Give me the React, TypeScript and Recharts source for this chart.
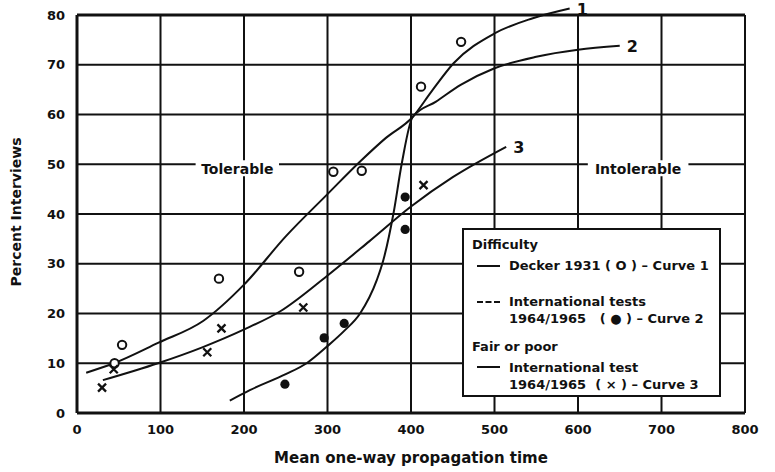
import React from 'react';
import { ComposedChart, Line, Scatter, XAxis, YAxis, CartesianGrid, Legend, ReferenceDot, ReferenceLine } from 'recharts';

// axis ticks
const xTicks = [0, 100, 200, 300, 400, 500, 600, 700, 800];
const yTicks = [0, 10, 20, 30, 40, 50, 60, 70, 80];

// fitted curves
const curve1 = [
  { x: 11, y: 8.1 }, { x: 44, y: 10 }, { x: 97, y: 14.1 }, { x: 151, y: 18.5 }, { x: 200, y: 25.8 },
  { x: 250, y: 35.5 }, { x: 300, y: 44 }, { x: 340, y: 50.7 }, { x: 370, y: 55.3 },
  { x: 402, y: 59.5 }, { x: 424, y: 64.5 }, { x: 451, y: 70.3 }, { x: 500, y: 76.3 }, { x: 545, y: 79.3 },
  { x: 590, y: 81.3 },
];
const curve2 = [
  { x: 183, y: 2.5 }, { x: 207, y: 4.6 }, { x: 250, y: 7.8 }, { x: 275, y: 10 }, { x: 299, y: 13.3 },
  { x: 320, y: 16.5 }, { x: 339, y: 20 }, { x: 359, y: 26.7 }, { x: 367, y: 30.8 }, { x: 379, y: 40.1 },
  { x: 389, y: 50.2 }, { x: 402, y: 59.5 }, { x: 430, y: 62.6 }, { x: 460, y: 66 }, { x: 500, y: 69.3 },
  { x: 550, y: 71.6 }, { x: 600, y: 73 }, { x: 650, y: 73.8 },
];
const curve3 = [
  { x: 31, y: 6.6 }, { x: 97, y: 10 }, { x: 150, y: 13.2 }, { x: 199, y: 16.7 }, { x: 243, y: 20.4 },
  { x: 299, y: 27.5 }, { x: 350, y: 34.5 }, { x: 400, y: 41.5 }, { x: 450, y: 47.4 }, { x: 514, y: 53.5 },
];

// measured points
const deckerPts = [
  { x: 45, y: 10 }, { x: 54, y: 13.7 }, { x: 170, y: 27 }, { x: 266, y: 28.4 },
  { x: 307, y: 48.5 }, { x: 341, y: 48.7 }, { x: 412, y: 65.6 }, { x: 460, y: 74.6 },
];
const intlPts = [
  { x: 249, y: 5.8 }, { x: 296, y: 15.1 }, { x: 320, y: 18 }, { x: 393, y: 36.9 }, { x: 393, y: 43.4 },
];
const fairPts = [
  { x: 30, y: 5.1 }, { x: 44, y: 8.8 }, { x: 156, y: 12.2 }, { x: 173, y: 17 }, { x: 271, y: 21.2 }, { x: 415, y: 45.8 },
];

const curveNames = ['1', '2', '3'];
const zoneLabels = [
  { text: 'Tolerable', x: 192, y: 50 },
  { text: 'Intolerable', x: 672, y: 50 },
];

const INK = '#111';
const FONT = '"DejaVu Sans", sans-serif';

const OpenCircle = (p: any) => (
  <circle cx={p.cx} cy={p.cy} r={4.2} fill="#fff" stroke={INK} strokeWidth={2} />
);
const FilledDot = (p: any) => <circle cx={p.cx} cy={p.cy} r={4.6} fill={INK} />;
const Cross = (p: any) => (
  <path
    d={`M${p.cx - 4},${p.cy - 4}L${p.cx + 4},${p.cy + 4}M${p.cx + 4},${p.cy - 4}L${p.cx - 4},${p.cy + 4}`}
    stroke={INK}
    strokeWidth={2.3}
  />
);

const curveTag = (text: string) => (p: any) => (
  <text x={p.cx + 7} y={p.cy + 1} dominantBaseline="central" fontSize={16} fontWeight="bold" fill={INK} fontFamily={FONT}>
    {text}
  </text>
);

const zoneTag = (text: string) => (p: any) => {
  const w = text.length * 8.6;
  return (
    <g>
      <rect x={p.cx - w / 2 - 3} y={p.cy - 4} width={w + 6} height={16} fill="#fff" />
      <text x={p.cx} y={p.cy + 5} textAnchor="middle" dominantBaseline="central" fontSize={14} fontWeight="bold" fill={INK} fontFamily={FONT}>
        {text}
      </text>
    </g>
  );
};

const rowStyle = (top: number, left: number): React.CSSProperties => ({
  position: 'absolute', top: top - 8, left, lineHeight: '16px', whiteSpace: 'pre',
});

const Sample = ({ top, dash }: { top: number; dash?: boolean }) => (
  <div style={{ position: 'absolute', left: 13, top: top - 1, width: 23, height: 0, borderTop: `2px ${dash ? 'dashed' : 'solid'} ${INK}` }} />
);

const LegendBox = () => (
  <div style={{
    position: 'relative', width: 259, height: 169, boxSizing: 'border-box', border: `2px solid ${INK}`,
    background: '#fff', fontFamily: FONT, fontWeight: 'bold', fontSize: 13, color: INK,
  }}>
    <div style={rowStyle(15, 8)}>Difficulty</div>
    <Sample top={36} />
    <div style={rowStyle(36, 45)}>Decker 1931 ( O ) – Curve 1</div>
    <Sample top={72} dash />
    <div style={rowStyle(72, 45)}>International tests</div>
    <div style={rowStyle(89, 45)}>1964/1965   ( ● ) – Curve 2</div>
    <div style={rowStyle(117, 8)}>Fair or poor</div>
    <Sample top={137} />
    <div style={rowStyle(138, 45)}>International test</div>
    <div style={rowStyle(155, 45)}>1964/1965  ( × ) – Curve 3</div>
  </div>
);

const tickStyle = { fontSize: 13, fontWeight: 'bold', fill: INK, fontFamily: FONT };

export default function App() {
  const last = (a: { x: number; y: number }[]) => a[a.length - 1];
  return (
    <div className="noclip" style={{ position: 'absolute', left: 0, top: 0, background: '#fff' }}>
      <style>{'.noclip [clip-path]{clip-path:none !important;}'}</style>
      <ComposedChart width={775} height={472} margin={{ top: 15, right: 30, bottom: 14, left: 17 }}>
        <CartesianGrid stroke={INK} strokeWidth={2} fill="none" />
        <XAxis
          type="number"
          dataKey="x"
          domain={[0, 800]}
          ticks={xTicks}
          allowDataOverflow
          height={45}
          tickLine={false}
          tickSize={6}
          tickMargin={6}
          tick={tickStyle}
          axisLine={{ stroke: INK, strokeWidth: 3 }}
          label={{
            content: (p: any) => (
              <text x={p.viewBox.x + p.viewBox.width / 2} y={p.viewBox.y + 45} textAnchor="middle" dominantBaseline="central" fontSize={15} fontWeight="bold" fill={INK} fontFamily={FONT}>
                Mean one-way propagation time
              </text>
            ),
          }}
        />
        <YAxis
          type="number"
          dataKey="y"
          domain={[0, 80]}
          ticks={yTicks}
          allowDataOverflow
          width={60}
          tickLine={false}
          tickSize={6}
          tickMargin={6}
          tick={tickStyle}
          axisLine={{ stroke: INK, strokeWidth: 3 }}
          label={{
            content: (p: any) => {
              const cx = p.viewBox.x - 1;
              const cy = p.viewBox.y + p.viewBox.height / 2 - 2;
              return (
                <text x={cx} y={cy} transform={`rotate(-90 ${cx} ${cy})`} textAnchor="middle" dominantBaseline="central" fontSize={14} fontWeight="bold" fill={INK} fontFamily={FONT}>
                  Percent Interviews
                </text>
              );
            },
          }}
        />
        <ReferenceLine y={80} stroke={INK} strokeWidth={3} />
        {zoneLabels.map((z) => (
          <ReferenceDot key={z.text} x={z.x} y={z.y} r={0} ifOverflow="visible" shape={zoneTag(z.text)} />
        ))}
        <Line data={curve1} dataKey="y" type="monotone" stroke={INK} strokeWidth={2} dot={false} isAnimationActive={false} />
        <Line data={curve2} dataKey="y" type="monotone" stroke={INK} strokeWidth={2} dot={false} isAnimationActive={false} />
        <Line data={curve3} dataKey="y" type="monotone" stroke={INK} strokeWidth={2} dot={false} isAnimationActive={false} />
        <Scatter data={deckerPts} dataKey="y" shape={OpenCircle} isAnimationActive={false} />
        <Scatter data={intlPts} dataKey="y" shape={FilledDot} isAnimationActive={false} />
        <Scatter data={fairPts} dataKey="y" shape={Cross} isAnimationActive={false} />
        {[curve1, curve2, curve3].map((c, i) => (
          <ReferenceDot key={curveNames[i]} x={last(c).x} y={last(c).y} r={0} ifOverflow="visible" shape={curveTag(curveNames[i])} />
        ))}
        <Legend
          layout="horizontal"
          verticalAlign="middle"
          align="center"
          wrapperStyle={{ left: 462, top: 228, width: 259, height: 169 }}
          content={() => <LegendBox />}
        />
      </ComposedChart>
    </div>
  );
}
